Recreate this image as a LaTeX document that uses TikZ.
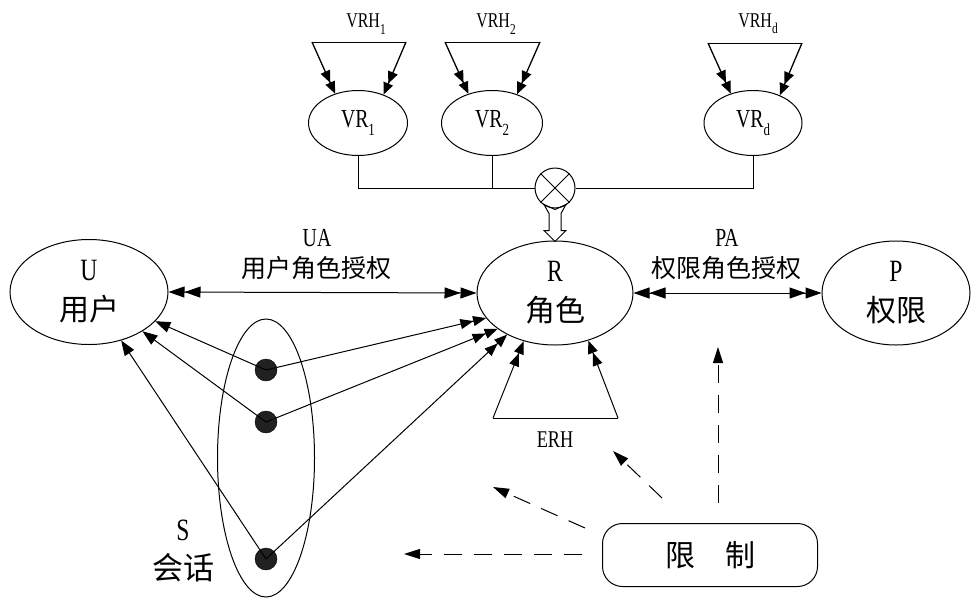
\documentclass[tikz,border=0pt]{standalone}
\usepackage{fontspec}
\setmainfont[FakeStretch=0.76]{Liberation Serif}
\newfontfamily\cjk{Noto Sans CJK SC}
\usetikzlibrary{shapes.geometric,arrows.meta}
\newcommand{\fs}[1]{\fontsize{#1}{#1}\selectfont}
\newcommand{\sbs}[2][17]{\raisebox{-0.3em}{\fontsize{#1}{#1}\selectfont #2}}
\tikzset{
  ln/.style={line width=1pt},
  ell/.style={ellipse,draw,line width=1pt,inner sep=0pt},
  bigdbl/.style={line width=1pt,{Triangle[length=16pt,width=11pt,sep=0pt]Triangle[length=16pt,width=11pt,sep=0pt]}-{Triangle[length=16pt,width=11pt,sep=0pt]Triangle[length=16pt,width=11pt,sep=0pt]}},
  smdbl/.style={line width=1pt,-{Triangle[length=13pt,width=10pt,sep=0pt]Triangle[length=13pt,width=10pt,sep=0pt]}},
  vdbl/.style={line width=1.3pt,-{Triangle[length=12pt,width=10pt,sep=0pt]Triangle[length=12pt,width=10pt,sep=0pt]}},
  onehead/.style={line width=1pt,-{Triangle[length=15pt,width=11pt]}},
  dsh/.style={line width=1pt,dash pattern=on 18pt off 12pt,-{Triangle[length=16pt,width=10pt]}},
  dotnode/.style={circle,draw=black,fill=black!87,minimum size=22pt,inner sep=0pt},
  big/.style={align=center,font=\fontsize{31}{40}\selectfont}
}
\begin{document}
\begin{tikzpicture}[x=1pt,y=-1pt]
\useasboundingbox (0,0) rectangle (971,597);

% main nodes
\node[ell,big,minimum width=158pt,minimum height=105pt] (U) at (89,292) {U\\{\cjk\fontsize{30}{40}\selectfont 用户}};
\node[ell,big,minimum width=156pt,minimum height=104pt] (R) at (555,293) {R\\{\cjk\fontsize{30}{40}\selectfont 角色}};
\node[ell,big,minimum width=148pt,minimum height=104pt] (P) at (896,293) {P\\{\cjk\fontsize{30}{40}\selectfont 权限}};

% labels UA / PA
\node[font=\fs{26}] (UAa) at (317,238) {UA};
\node[font=\cjk\fs{25}] (UAb) at (316,268) {用户角色授权};
\node[font=\fs{26}] (PAa) at (727,238) {PA};
\node[font=\cjk\fs{25}] (PAb) at (726,268) {权限角色授权};

\draw[bigdbl] (U.east) -- (R.west);
\draw[bigdbl] (R.east) -- (P.west);

% session
\node[ell,minimum width=97pt,minimum height=278pt] (S) at (266,458) {};
\node[align=center,font=\fontsize{31}{39}\selectfont] (Slab) at (183,551) {S\\{\cjk\fontsize{31}{39}\selectfont 会话}};
\node[dotnode] (d1) at (266,370) {};
\node[dotnode] (d2) at (266,422) {};
\node[dotnode] (d3) at (266,559) {};
\draw[onehead] (d1.center) -- (U);
\draw[onehead] (d2.center) -- (U);
\draw[onehead] (d3.center) -- (U);
\draw[smdbl] (d1.center) -- (R.200);
\draw[smdbl] (d2.center) -- (R.212);
\draw[smdbl] (d3.center) -- (R.221);

% ERH
\coordinate (eL) at (493,418);
\coordinate (eR) at (618,418);
\draw[ln] (eL) -- (eR);
\draw[smdbl] (eL) -- (R.237);
\draw[smdbl] (eR) -- (R.305);
\node[font=\fs{24}] (ERH) at (555,440) {ERH};

% virtual roles
\node[ell,minimum width=99pt,minimum height=65pt,font=\fs{26}] (VR1) at (358,123) {VR\sbs{1}};
\node[ell,minimum width=101pt,minimum height=65pt,font=\fs{26}] (VR2) at (492,123) {VR\sbs{2}};
\node[ell,minimum width=98pt,minimum height=65pt,font=\fs{26}] (VRd) at (753,123) {VR\sbs{d}};

\node[font=\fs{21}] (H1) at (366,24) {VRH\sbs[15]{1}};
\node[font=\fs{21}] (H2) at (496,24) {VRH\sbs[15]{2}};
\node[font=\fs{21}] (Hd) at (758,24) {VRH\sbs[15]{d}};

\coordinate (a1) at (312,42); \coordinate (b1) at (406,42);
\coordinate (a2) at (445,42); \coordinate (b2) at (540,42);
\coordinate (ad) at (708,43); \coordinate (bd) at (802,43);
\draw[ln] (a1) -- (b1);
\draw[ln] (a2) -- (b2);
\draw[ln] (ad) -- (bd);
\draw[vdbl] (a1) -- (VR1.128);
\draw[vdbl] (b1) -- (VR1.48);
\draw[vdbl] (a2) -- (VR2.129);
\draw[vdbl] (b2) -- (VR2.49);
\draw[vdbl] (ad) -- (VRd.127);
\draw[vdbl] (bd) -- (VRd.46);

% combination circle
\node[circle,draw,line width=1pt,minimum size=40pt,inner sep=0pt] (X) at (555,188) {};
\draw[ln] (X.45) -- (X.225);
\draw[ln] (X.135) -- (X.315);
\draw[ln] (VR1.south) |- (X.west);
\draw[ln] (VR2.south) -- (VR2.south |- X.west);
\draw[ln] (VRd.south) |- (X.east);
\draw[ln,line join=miter,shift={(X.south)}] (-11,-4) -- (0,1) -- (11,-4) -- (6,5) -- (6,22) -- (11,22) -- (0,33) -- (-11,22) -- (-6,22) -- (-6,5) -- cycle;

% restriction
\node[draw,line width=1pt,rounded corners=20pt,minimum width=215pt,minimum height=63pt,font=\cjk\fs{30}] (L) at (710,555) {限\hspace{1em}制};
\coordinate (s1) at (718,503); \coordinate (t1) at (718,347);
\coordinate (s2) at (662,498); \coordinate (t2) at (613,451);
\coordinate (s3) at (585,528); \coordinate (t3) at (493,487);
\coordinate (s4) at (582,554); \coordinate (t4) at (404,554);
\draw[dsh] (s1) -- (t1);
\draw[dsh] (s2) -- (t2);
\draw[dsh] (s3) -- (t3);
\draw[dsh] (s4) -- (t4);
\end{tikzpicture}
\end{document}
